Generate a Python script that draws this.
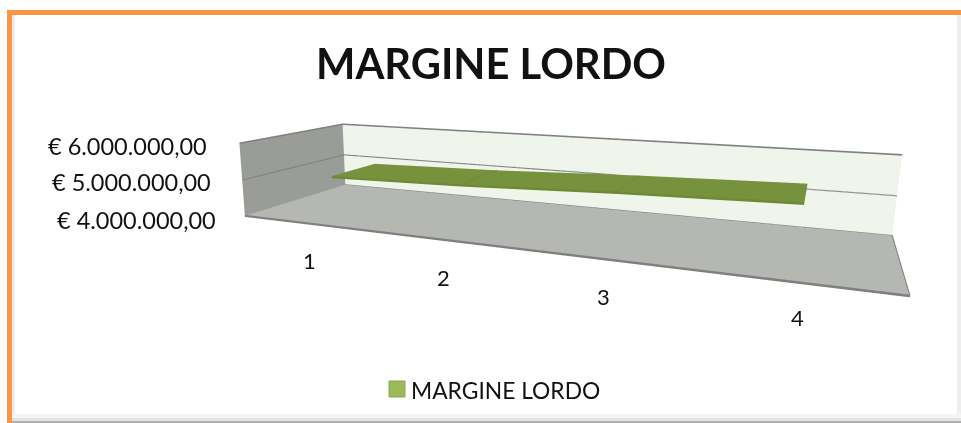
import numpy as np, plotly.graph_objects as go
# ---- data ----
categories = [1, 2, 3, 4]
category_labels = ['1', '2', '3', '4']
margine_lordo = [5040000, 5126000, 5274000, 5378000]
value_ticks = [4000000, 5000000, 6000000]
value_tick_labels = ['€ 4.000.000,00', '€ 5.000.000,00', '€ 6.000.000,00']
series_name = 'MARGINE LORDO'
chart_title = 'MARGINE LORDO'
# ---- view ----
FH = 626; OFF = 102; W = 961
EYE = dict(x=0.855, y=-2.486, z=0.527); CEN = dict(x=-0.225, y=-0.109, z=-0.083); UP = dict(x=-0.092, y=0.208, z=0.974)
ASP = [2.2, 0.662, 0.274]
X0, X1 = categories[0]-.5, categories[-1]+.5
Z0, Z1 = value_ticks[0], value_ticks[-1]
Y0, Y1 = 0, 1
YB, YF = .73, .27
THICK = 60000
PAD = .03
fig = go.Figure()
LIGHT = dict(ambient=1, diffuse=0, specular=0, roughness=1, fresnel=0)
def mesh(x, y, z, i, j, k, c):
    fig.add_trace(go.Mesh3d(x=x, y=y, z=z, i=i, j=j, k=k, color=c, flatshading=True, lighting=LIGHT, hoverinfo='skip', showscale=False))
def line(x, y, z, c='#7f7f7f', layers=(0, 16000)):
    for d in layers:
        fig.add_trace(go.Scatter3d(x=x, y=y, z=[q+d for q in z], mode='lines', line=dict(color=c, width=2), hoverinfo='skip', showlegend=False))
Q = ([0, 0], [1, 2], [2, 3])
mesh([X0, X1, X1, X0], [Y0, Y0, Y1, Y1], [Z0]*4, *Q, '#b5b7b2')
mesh([X0]*4, [Y0, Y1, Y1, Y0], [Z0, Z0, Z1, Z1], *Q, '#9a9c98')
mesh([X0, X1, X1, X0], [Y1]*4, [Z0, Z0, Z1, Z1], *Q, '#f0f5ec')
for a, b, va, vb in zip(categories[:-1], categories[1:], margine_lordo[:-1], margine_lordo[1:]):
    mesh([a, b, b, a], [YF, YF, YB, YB], [va, vb, vb, va], *Q, '#76923c')
    mesh([a, b, b, a], [YF]*4, [va-THICK, vb-THICK, vb, va], *Q, '#6e8a36')
for c, v in zip(categories[1:-1], margine_lordo[1:-1]):
    line([c, c], [YF, YB], [v, v], '#6c8836', layers=(3000,))
a, v = categories[-1], margine_lordo[-1]
mesh([a]*4, [YF, YB, YB, YF], [v-THICK, v-THICK, v, v], *Q, '#6e8a36')
a, v = categories[0], margine_lordo[0]
mesh([a]*4, [YF, YB, YB, YF], [v-THICK, v-THICK, v, v], *Q, '#6e8a36')
line([X0, X1, X1], [Y0, Y0, Y1], [Z0]*3, layers=(-16000, 0, 16000))
line([X0, X1], [Y1, Y1], [Z0]*2)
line([X0, X0, X1], [Y0, Y1, Y1], [Z1]*3)
line([X0, X0, X1], [Y0, Y1, Y1], [value_ticks[1]]*3)
def padded(a, b, s):
    p = (b-a)*PAD
    return [a-p, b+p], s*(1+2*PAD)
xr, ax = padded(X0, X1, ASP[0]); yr, ay = padded(Y0, Y1, ASP[1]); zr, az = padded(Z0, Z1, ASP[2])
fig.update_layout(width=W, height=FH, margin=dict(l=0, r=0, t=0, b=0), paper_bgcolor='white', showlegend=False,
    scene=dict(domain=dict(x=[0, 1], y=[0, 1]), bgcolor='rgba(0,0,0,0)',
        xaxis=dict(range=xr, visible=False), yaxis=dict(range=yr, visible=False), zaxis=dict(range=zr, visible=False),
        aspectmode='manual', aspectratio=dict(x=ax, y=ay, z=az),
        camera=dict(eye=EYE, center=CEN, up=UP, projection=dict(type='perspective'))))
def py(y): return 1-(y+OFF)/FH
def px(x): return x/W
def ann(x, y, t, sz, anchor='center'):
    fig.add_annotation(x=px(x), y=py(y), xref='paper', yref='paper', text=t, showarrow=False, xanchor=anchor, yanchor='middle',
                       font=dict(family='Lato', size=sz, color='#111'))
ann(491, 63, '<b>%s</b>' % chart_title, 41.7)
for l, x, y in zip(value_tick_labels, [218, 213, 209], [220, 182, 146]):
    ann(x, y, l, 23.5, anchor='right')
for l, x, y in zip(category_labels, [309, 443, 603, 797], [260, 277, 296, 317]):
    ann(x, y, l, 22)
ann(409, 390, series_name, 22.8, anchor='left')
def rect(x0, y0, x1, y1, c, lw=0, lc=None):
    fig.add_shape(type='rect', xref='paper', yref='paper', x0=px(x0), x1=px(x1), y0=py(y1), y1=py(y0), fillcolor=c, line=dict(color=lc, width=lw) if lw else dict(width=0))
rect(389, 381, 405, 397, '#9bbb59', 1, '#8aa64c')
rect(12, 15, 15, 423, '#ececec'); rect(957, 15, 961, 423, '#eeeeee')
rect(7, 10, 961, 15, '#f79646'); rect(7, 10, 12, 423, '#f79646')
rect(12, 414, 961, 418, '#f4f4f4'); rect(12, 418, 961, 421, '#e2e2e2'); rect(12, 421, 961, 423, '#b0b0b0')
post = ("var g=document.getElementById('{plot_id}');g.style.position='absolute';g.style.left='0px';g.style.top='-%dpx';"
        "document.documentElement.style.overflow='hidden';document.body.style.overflow='hidden';document.body.style.margin='0';" % OFF)
fig.write_html("out.html", post_script=post)
